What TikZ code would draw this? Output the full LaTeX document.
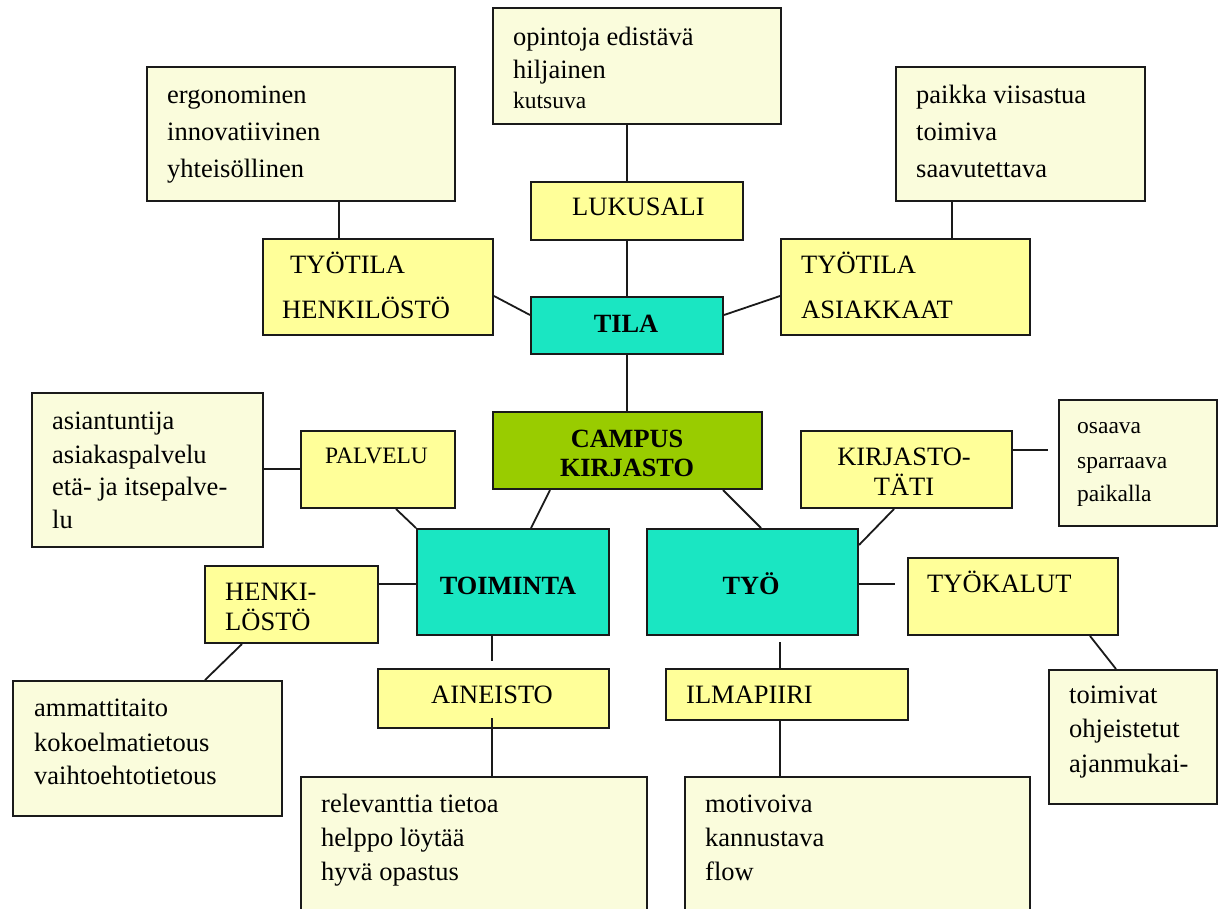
\documentclass[tikz,border=0pt]{standalone}
\usepackage{fontspec}
\setmainfont{Liberation Serif}
\definecolor{cream}{HTML}{FAFCDC}
\definecolor{yel}{HTML}{FFFF99}
\definecolor{turq}{HTML}{1AE6C2}
\definecolor{grn}{HTML}{99CC00}
\definecolor{ink}{HTML}{1A1A1A}
\begin{document}
\begin{tikzpicture}[x=1pt,y=-1pt,
  box/.style={draw=ink, line width=2pt, anchor=north west, inner sep=0pt, rectangle},
  cbox/.style={box, fill=cream},
  ybox/.style={box, fill=yel},
  tbox/.style={box, fill=turq},
  gbox/.style={box, fill=grn},
  conn/.style={line width=1.8pt, draw=ink},
  txt/.style={anchor=base west, inner sep=0pt, font=\fontsize{26.5}{27}\selectfont},
  stxt/.style={txt, font=\fontsize{23.5}{24}\selectfont},
  ctxt/.style={anchor=base, inner sep=0pt, font=\fontsize{26.5}{27}\selectfont},
  btxt/.style={anchor=base, inner sep=0pt, font=\fontsize{26.3}{27}\selectfont\bfseries}]
\useasboundingbox[fill=white] (0,0) rectangle (1222,908);

% boxes
\node[cbox, minimum width=288pt, minimum height=116pt] (opin) at (492,7) {};
\node[cbox, minimum width=308pt, minimum height=134pt] (ergo) at (146,66) {};
\node[cbox, minimum width=249pt, minimum height=134pt] (paik) at (895,66) {};
\node[ybox, minimum width=212pt, minimum height=58pt] (luku) at (530,181) {};
\node[ybox, minimum width=230pt, minimum height=96pt] (tyoh) at (262,238) {};
\node[tbox, minimum width=192pt, minimum height=57pt] (tila) at (530,296) {};
\node[ybox, minimum width=249pt, minimum height=96pt] (tyoa) at (780,238) {};
\node[gbox, minimum width=269pt, minimum height=77pt] (camp) at (492,411) {};
\node[cbox, minimum width=231pt, minimum height=154pt] (asia) at (31,392) {};
\node[ybox, minimum width=154pt, minimum height=77pt] (palv) at (300,430) {};
\node[tbox, minimum width=192pt, minimum height=106pt] (toim) at (416,528) {};
\node[tbox, minimum width=211pt, minimum height=106pt] (tyo) at (646,528) {};
\node[ybox, minimum width=173pt, minimum height=77pt] (henk) at (204,565) {};
\node[cbox, minimum width=269pt, minimum height=135pt] (amma) at (12,680) {};
\node[ybox, minimum width=231pt, minimum height=59pt] (aine) at (377,668) {};
\node[ybox, minimum width=242pt, minimum height=51pt] (ilma) at (665,668) {};
\node[cbox, minimum width=346pt, minimum height=150pt] (rele) at (300,776) {};
\node[cbox, minimum width=345pt, minimum height=150pt] (moti) at (684,776) {};
\node[ybox, minimum width=211pt, minimum height=77pt] (kirj) at (800,430) {};
\node[cbox, minimum width=158pt, minimum height=126pt] (osaa) at (1058,399) {};
\node[ybox, minimum width=210pt, minimum height=77pt] (tyok) at (907,557) {};
\node[cbox, minimum width=168pt, minimum height=134pt] (toiv) at (1048,669) {};

% texts
\node[txt] (opin1) at (513,45) {opintoja edistävä};
\node[txt] (opin2) at (513,78) {hiljainen};
\node[stxt] (opin3) at (513,108) {kutsuva};
\node[txt] (ergo1) at (167,103) {ergonominen};
\node[txt] (ergo2) at (167,140) {innovatiivinen};
\node[txt] (ergo3) at (167,177) {yhteisöllinen};
\node[txt] (paik1) at (916,103) {paikka viisastua};
\node[txt] (paik2) at (916,140) {toimiva};
\node[txt] (paik3) at (916,177) {saavutettava};
\node[txt] (luku1) at (572,215) {LUKUSALI};
\node[txt] (tyoh1) at (290,273) {TYÖTILA};
\node[txt] (tyoh2) at (282,318) {HENKILÖSTÖ};
\node[btxt] (tila1) at (626,332) {TILA};
\node[txt] (tyoa1) at (801,273) {TYÖTILA};
\node[txt] (tyoa2) at (801,318) {ASIAKKAAT};
\node[btxt] (camp1) at (627,447) {CAMPUS};
\node[btxt] (camp2) at (627,476) {KIRJASTO};
\node[txt] (asia1) at (52,429) {asiantuntija};
\node[txt] (asia2) at (52,463) {asiakaspalvelu};
\node[txt] (asia3) at (52,495) {etä- ja itsepalve-};
\node[txt] (asia4) at (52,528) {lu};
\node[stxt] (palv1) at (325,463) {PALVELU};
\node[btxt] (toim1) at (508,594) {TOIMINTA};
\node[btxt] (tyo1) at (751,594) {TYÖ};
\node[txt] (henk1) at (225,600) {HENKI-};
\node[txt] (henk2) at (225,630) {LÖSTÖ};
\node[txt] (amma1) at (34,716) {ammattitaito};
\node[txt] (amma2) at (34,751) {kokoelmatietous};
\node[txt] (amma3) at (34,784) {vaihtoehtotietous};
\node[ctxt] (aine1) at (492,703) {AINEISTO};
\node[txt] (ilma1) at (686,703) {ILMAPIIRI};
\node[txt] (rele1) at (321,812) {relevanttia tietoa};
\node[txt] (rele2) at (321,846) {helppo löytää};
\node[txt] (rele3) at (321,880) {hyvä opastus};
\node[txt] (moti1) at (705,812) {motivoiva};
\node[txt] (moti2) at (705,846) {kannustava};
\node[txt] (moti3) at (705,880) {flow};
\node[ctxt] (kirj1) at (904,465) {KIRJASTO-};
\node[ctxt] (kirj2) at (904,495) {TÄTI};
\node[stxt] (osaa1) at (1077,433) {osaava};
\node[stxt] (osaa2) at (1077,468) {sparraava};
\node[stxt] (osaa3) at (1077,501) {paikalla};
\node[txt] (tyok1) at (927,592) {TYÖKALUT};
\node[txt] (toiv1) at (1069,703) {toimivat};
\node[txt] (toiv2) at (1069,737) {ohjeistetut};
\node[txt] (toiv3) at (1069,772) {ajanmukai-};

% free connector ends
\coordinate (kend) at (1048,450);
\coordinate (tend) at (895,584);
\coordinate (tyodown) at (780,642);
\coordinate (toimend) at (492,661);
\coordinate (ainestart) at (492,718);

% connectors
\draw[conn] (opin.south -| tila.north) -- (luku.north -| tila.north);
\draw[conn] (luku.south -| tila.north) -- (tila.north);
\draw[conn] (tila.south) -- (camp.north -| tila.south);
\draw[conn] ([xshift=193pt]ergo.south west) -- ([xshift=77pt]tyoh.north west);
\draw[conn] ([xshift=57pt]paik.south west) -- ([xshift=172pt]tyoa.north west);
\draw[conn] ([yshift=-58pt]tyoh.north east) -- ([yshift=-19pt]tila.north west);
\draw[conn] ([yshift=-19pt]tila.north east) -- ([yshift=-58pt]tyoa.north west);
\draw[conn] ([yshift=-77pt]asia.north east) -- ([yshift=-39pt]palv.north west);
\draw[conn] ([xshift=96pt]palv.south west) -- (toim.north west);
\draw[conn] ([xshift=58pt]camp.south west) -- ([xshift=115pt]toim.north west);
\draw[conn] ([xshift=231pt]camp.south west) -- ([xshift=115pt]tyo.north west);
\draw[conn] ([xshift=94pt]kirj.south west) -- ([yshift=-17pt]tyo.north east);
\draw[conn] ([yshift=-20pt]kirj.north east) -- (kend);
\draw[conn] ([yshift=-56pt]tyo.north east) -- (tend);
\draw[conn] ([xshift=183pt]tyok.south west) -- ([xshift=68pt]toiv.north west);
\draw[conn] (tyodown) -- (ilma.north -| tyodown);
\draw[conn] (ilma.south -| tyodown) -- (moti.north -| tyodown);
\draw[conn] (toim.south -| toimend) -- (toimend);
\draw[conn] (ainestart) -- (rele.north -| ainestart);
\draw[conn] ([yshift=-19pt]henk.north east) -- ([yshift=-56pt]toim.north west);
\draw[conn] ([xshift=38pt]henk.south west) -- ([xshift=193pt]amma.north west);
\end{tikzpicture}
\end{document}
